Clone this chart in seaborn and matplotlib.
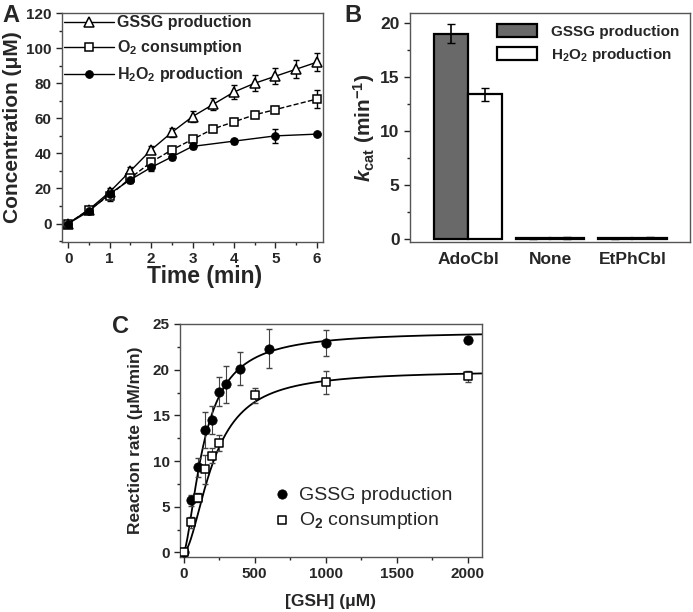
import numpy as np
import pandas as pd
import seaborn as sns
import matplotlib
import matplotlib.pyplot as plt
from matplotlib.ticker import MultipleLocator
from matplotlib.font_manager import FontProperties, findfont

# Panel A data: time course
time_gssg = [0, 0.5, 1, 1.5, 2, 2.5, 3, 3.5, 4, 4.5, 5, 5.5, 6]
conc_gssg = [0, 8, 18, 30, 42, 52, 61, 68, 75, 80, 84, 88, 92]
err_gssg = [1, 1.5, 2, 2, 2, 2.5, 3, 3.5, 4, 4.5, 4.5, 5, 5]
time_o2 = [0, 0.5, 1, 1.5, 2, 2.5, 3, 3.5, 4, 4.5, 5, 6]
conc_o2 = [0, 8, 16, 26, 35, 42, 48, 54, 58, 62, 65, 71]
err_o2 = [1, 1.5, 3, 3, 2.5, 2, 2, 2, 2, 2, 2, 5]
time_h2o2 = [0, 0.5, 1, 1.5, 2, 2.5, 3, 4, 5, 6]
conc_h2o2 = [0, 7, 17, 25, 32, 38, 44, 47, 50, 51]
err_h2o2 = [0.5, 1, 2, 2, 2, 1.5, 1.5, 1.5, 4, 1]

# Panel B data: kcat
cofactors = ['AdoCbl', 'None', 'EtPhCbl']
kcat_gssg = [19.0, 0.05, 0.05]
kcat_gssg_err = [0.9, 0.05, 0.05]
kcat_h2o2 = [13.4, 0.1, 0.1]
kcat_h2o2_err = [0.6, 0.1, 0.05]

# Panel C data: rate vs [GSH]
gsh_gssg = [0, 50, 100, 150, 200, 250, 300, 400, 600, 1000, 2000]
rate_gssg = [0, 5.7, 9.3, 13.4, 14.5, 17.6, 18.4, 20.1, 22.3, 22.9, 23.3]
rate_gssg_err = [0.2, 0.6, 1.0, 2.0, 1.5, 1.6, 2.0, 1.8, 2.1, 1.4, 0.3]
gsh_o2 = [0, 50, 100, 150, 200, 250, 500, 1000, 2000]
rate_o2 = [0, 3.3, 6.0, 9.1, 10.6, 12.0, 17.2, 18.6, 19.3]
rate_o2_err = [0.2, 0.6, 0.5, 1.6, 0.8, 0.9, 0.8, 1.3, 0.6]
# Hill fit parameters (Vmax, K, n)
fit_gssg = (24.2, 145, 1.6)
fit_o2 = (19.9, 210, 1.8)

sns.set_style('ticks')
plt.rcParams['font.family'] = ['Liberation Sans', 'DejaVu Sans']
plt.rcParams['font.weight'] = 'bold'
plt.rcParams['axes.labelweight'] = 'bold'
plt.rcParams['mathtext.fontset'] = 'custom'
plt.rcParams['mathtext.rm'] = 'Liberation Sans:bold'
plt.rcParams['mathtext.it'] = 'Liberation Sans:bold:italic'
plt.rcParams['mathtext.bf'] = 'Liberation Sans:bold'
plt.rcParams['mathtext.default'] = 'bf'
plt.rcParams['axes.linewidth'] = 1.0
plt.rcParams['axes.edgecolor'] = '#555555'

# fixed bold font file for the texts of panel B
bold_path = findfont(FontProperties(family='Liberation Sans', weight='bold', stretch='normal'))

fig = plt.figure(figsize=(6.93, 6.12), dpi=100)
axA = fig.add_axes([0.0895, 0.6046, 0.3766, 0.374])
axB = fig.add_axes([0.5916, 0.6046, 0.404, 0.374])
axC = fig.add_axes([0.2597, 0.0899, 0.4358, 0.3807])


def style_axis(ax, fs=11):
    for s in ax.spines.values():
        s.set_visible(True)
    ax.tick_params(which='major', direction='out', length=4, width=1, labelsize=fs)
    ax.tick_params(which='minor', direction='out', length=2.5, width=1)
    for lab in ax.get_xticklabels() + ax.get_yticklabels():
        lab.set_fontweight('bold')


# ---- Panel A
dfA = pd.DataFrame({'t': time_gssg, 'c': conc_gssg})
sns.lineplot(data=dfA, x='t', y='c', ax=axA, color='black', lw=1.0, marker='^', ms=6.5,
             mfc='white', mec='black', mew=1.1, label='GSSG production')
axA.errorbar(time_gssg, conc_gssg, yerr=err_gssg, fmt='none', ecolor='black', capsize=2.5, lw=1, zorder=1)
dfA2 = pd.DataFrame({'t': time_o2, 'c': conc_o2})
sns.lineplot(data=dfA2, x='t', y='c', ax=axA, color='black', lw=1.0, ls='--', marker='s', ms=5.5,
             mfc='white', mec='black', mew=1.1, label='O$_2$ consumption')
axA.errorbar(time_o2, conc_o2, yerr=err_o2, fmt='none', ecolor='black', capsize=2.5, lw=1, zorder=1)
dfA3 = pd.DataFrame({'t': time_h2o2, 'c': conc_h2o2})
sns.lineplot(data=dfA3, x='t', y='c', ax=axA, color='black', lw=1.0, marker='o', ms=5.5,
             mfc='black', mec='black', label='H$_2$O$_2$ production')
axA.errorbar(time_h2o2, conc_h2o2, yerr=err_h2o2, fmt='none', ecolor='black', capsize=2.5, lw=1, zorder=1)
axA.set_xlim(-0.15, 6.15)
axA.set_ylim(-10.5, 120)
axA.xaxis.set_major_locator(MultipleLocator(1))
axA.xaxis.set_minor_locator(MultipleLocator(0.5))
axA.yaxis.set_major_locator(MultipleLocator(20))
axA.yaxis.set_minor_locator(MultipleLocator(10))
axA.set_xlabel('Time (min)', fontsize=16.5, fontweight='bold', labelpad=0)
axA.xaxis.set_label_coords(0.548, -0.1)
axA.set_ylabel('Concentration (\u03bcM)', fontsize=15, fontweight='bold', labelpad=3)
style_axis(axA, fs=11)
legA = axA.legend(loc='upper left', frameon=False, handlelength=3.1,
                  handletextpad=0.2, labelspacing=0.5, borderaxespad=0.0, borderpad=0.15,
                  prop={'weight': 'bold', 'size': 11.5})
for h in legA.get_lines():
    h.set_linestyle('-')

# ---- Panel B
dfB = pd.DataFrame({
    'cofactor': cofactors * 2,
    'kcat': kcat_gssg + kcat_h2o2,
    'series': ['GSSG production'] * 3 + ['H$_2$O$_2$ production'] * 3,
})
sns.barplot(data=dfB, x='cofactor', y='kcat', hue='series', ax=axB, width=0.83,
            palette=['#696969', 'white'], edgecolor='black', linewidth=1.6, errorbar=None)
errs = kcat_gssg_err + kcat_h2o2_err
vals = kcat_gssg + kcat_h2o2
for p, v, e in zip(axB.patches[:6], vals, errs):
    axB.errorbar(p.get_x() + p.get_width() / 2, v, yerr=e, fmt='none', ecolor='black',
                 capsize=3, lw=1.2)
axB.set_xlim(-0.71, 2.7)
axB.set_ylim(-0.3, 20.9)
axB.yaxis.set_major_locator(MultipleLocator(5))
axB.yaxis.set_minor_locator(MultipleLocator(2.5))
axB.set_xlabel('')
axB.set_ylabel(r'$\mathit{k}_{\mathbf{cat}}$ (min$^{-1}$)',
               fontproperties=FontProperties(fname=bold_path, size=15), labelpad=2)
style_axis(axB, fs=12.5)
axB.tick_params(axis='x', length=0, labelsize=12.5, pad=7)
legB = axB.legend(loc='upper right', frameon=False,
                  prop=FontProperties(fname=bold_path, size=11),
                  handlelength=2.6, handleheight=1.0, handletextpad=0.9, labelspacing=0.45,
                  borderaxespad=0.3)

# ---- Panel C
xs = np.linspace(0, 2100, 400)
fitC1 = pd.DataFrame({'x': xs, 'y': fit_gssg[0] * xs ** fit_gssg[2] / (fit_gssg[1] ** fit_gssg[2] + xs ** fit_gssg[2])})
fitC2 = pd.DataFrame({'x': xs, 'y': fit_o2[0] * xs ** fit_o2[2] / (fit_o2[1] ** fit_o2[2] + xs ** fit_o2[2])})
sns.lineplot(data=fitC1, x='x', y='y', ax=axC, color='black', lw=1.3)
sns.lineplot(data=fitC2, x='x', y='y', ax=axC, color='black', lw=1.3)
axC.errorbar(gsh_gssg, rate_gssg, yerr=rate_gssg_err, fmt='none', ecolor='#444444', capsize=2, lw=0.8)
axC.errorbar(gsh_o2, rate_o2, yerr=rate_o2_err, fmt='none', ecolor='#444444', capsize=2, lw=0.8)
sns.scatterplot(x=gsh_gssg, y=rate_gssg, ax=axC, marker='o', s=45, color='black',
                edgecolor='black', label='GSSG production', zorder=3)
sns.scatterplot(x=gsh_o2, y=rate_o2, ax=axC, marker='s', s=32, color='white',
                edgecolor='black', linewidth=1.1, label='O$_2$ consumption', zorder=3)
axC.set_xlim(-25, 2100)
axC.set_ylim(-0.5, 25)
axC.xaxis.set_major_locator(MultipleLocator(500))
axC.xaxis.set_minor_locator(MultipleLocator(250))
axC.yaxis.set_major_locator(MultipleLocator(5))
axC.yaxis.set_minor_locator(MultipleLocator(2.5))
axC.set_xlabel('[GSH] (\u03bcM)', fontsize=12.5, fontweight='bold', labelpad=9)
axC.set_ylabel('Reaction rate (\u03bcM/min)', fontsize=12.5, fontweight='bold', labelpad=7)
style_axis(axC, fs=11)
legC = axC.legend(loc='upper left', bbox_to_anchor=(0.31, 0.305), frameon=False,
                  prop={'weight': 'normal', 'size': 14}, borderpad=0, borderaxespad=0,
                  handlelength=0.9, handletextpad=0.4, labelspacing=0.35)

# panel letters
fig.text(0.003, 0.975, 'A', fontsize=17, fontweight='bold', va='center')
fig.text(0.497, 0.975, 'B', fontsize=17, fontweight='bold', va='center')
fig.text(0.162, 0.467, 'C', fontsize=17, fontweight='bold', va='center')

fig.savefig('out.png', dpi=100)
